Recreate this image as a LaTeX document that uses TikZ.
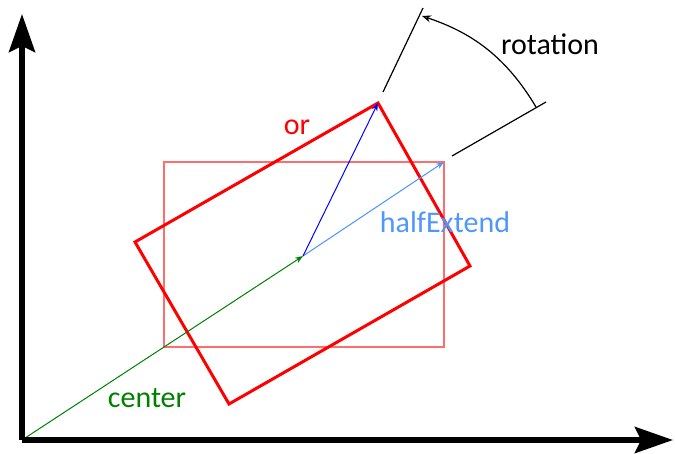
\documentclass[tikz,border=0pt]{standalone}
\usepackage{fontspec}
\setmainfont{Carlito}
\usetikzlibrary{arrows.meta}
\definecolor{lblue}{RGB}{80,150,255}
\definecolor{pink}{RGB}{255,110,110}
\definecolor{dgreen}{RGB}{0,128,0}
\begin{document}
\begin{tikzpicture}[x=1pt,y=-1pt,
  axis/.style={line width=5.5pt,-{Stealth[length=38pt,width=26pt,inset=6pt]}},
  vec/.style={line width=1pt,-{Stealth[length=8pt,width=6pt]}},
  lbl/.style={font=\fontsize{30}{36}\selectfont,inner sep=0pt}]
\useasboundingbox (0,0) rectangle (675,453);
\coordinate (O) at (22,440);
\coordinate (Y) at (22,14);
\coordinate (X) at (673,440);
\coordinate (C) at (303,256);
\coordinate (H) at (444,162);
\coordinate (R) at (378,103);
\coordinate (r1) at (135,242);
\coordinate (r3) at (470,266);
\coordinate (r4) at (229,404);
\coordinate (u1) at (383,92);
\coordinate (u2) at (423,8);
\coordinate (l1) at (452,156);
\coordinate (l2) at (546,102);
\coordinate (a1) at (536,107);
\coordinate (a2) at (422,16);
% pink box
\draw[pink,line width=1.5pt] (164,162) rectangle (444,347);
% red rotated box
\draw[red,line width=3pt,line join=miter] (r1) -- (R) -- (r3) -- (r4) -- cycle;
% vectors
\draw[vec,dgreen] (O) -- (C);
\draw[vec,lblue] (C) -- (H);
\draw[vec,blue] (C) -- (R);
% rotation marks
\draw[line width=1.2pt] (u1) -- (u2);
\draw[line width=1.2pt] (l1) -- (l2);
\draw[line width=1.2pt,-{Stealth[length=9pt,width=7pt,open]}] (a1) .. controls (505,55) and (470,32) .. (a2);
% axes
\draw[axis] (O) -- (Y);
\draw[axis] (O) -- (X);
% labels
\node[lbl,red] (lor) at (297,127) {or};
\node[lbl,lblue] (lhe) at (445,222) {halfExtend};
\node[lbl,dgreen] (lce) at (147,398) {center};
\node[lbl] (lro) at (550,44) {rotation};
\end{tikzpicture}
\end{document}
